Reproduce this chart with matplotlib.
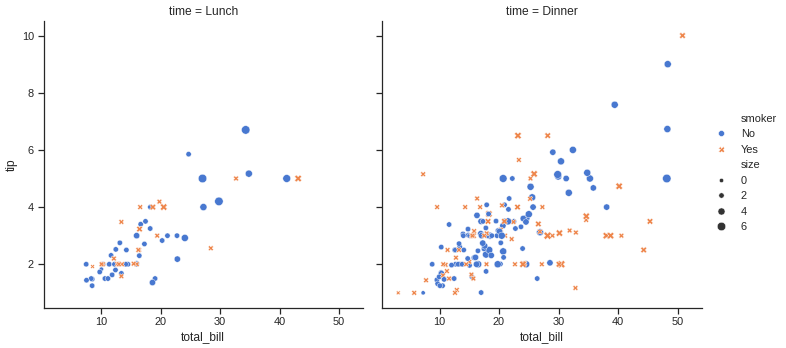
import matplotlib
matplotlib.use("Agg")
import numpy as np
import matplotlib.pyplot as plt
from matplotlib.lines import Line2D
import pandas as pd
import seaborn as sns

# tips data
total_bill = [
    16.99, 10.34, 21.01, 23.68, 24.59, 25.29, 8.77, 26.88, 15.04, 14.78,
    10.27, 35.26, 15.42, 18.43, 14.83, 21.58, 10.33, 16.29, 16.97, 20.65,
    17.92, 20.29, 15.77, 39.42, 19.82, 17.81, 13.37, 12.69, 21.70, 19.65,
    9.55, 18.35, 15.06, 20.69, 17.78, 24.06, 16.31, 16.93, 18.69, 31.27,
    16.04, 17.46, 13.94, 9.68, 30.40, 18.29, 22.23, 32.40, 28.55, 18.04,
    12.54, 10.29, 34.81, 9.94, 25.56, 19.49, 38.01, 26.41, 11.24, 48.27,
    20.29, 13.81, 11.02, 18.29, 17.59, 20.08, 16.45, 3.07, 20.23, 15.01,
    12.02, 17.07, 26.86, 25.28, 14.73, 10.51, 17.92, 27.20, 22.76, 17.29,
    19.44, 16.66, 10.07, 32.68, 15.98, 34.83, 13.03, 18.28, 24.71, 21.16,
    28.97, 22.49, 5.75, 16.32, 22.75, 40.17, 27.28, 12.03, 21.01, 12.46,
    11.35, 15.38, 44.30, 22.42, 20.92, 15.36, 20.49, 25.21, 18.24, 14.31,
    14.00, 7.25, 38.07, 23.95, 25.71, 17.31, 29.93, 10.65, 12.43, 24.08,
    11.69, 13.42, 14.26, 15.95, 12.48, 29.80, 8.52, 14.52, 11.38, 22.82,
    19.08, 20.27, 11.17, 12.26, 18.26, 8.51, 10.33, 14.15, 16.00, 13.16,
    17.47, 34.30, 41.19, 27.05, 16.43, 8.35, 18.64, 11.87, 9.78, 7.51,
    14.07, 13.13, 17.26, 24.55, 19.77, 29.85, 48.17, 25.00, 13.39, 16.49,
    21.50, 12.66, 16.21, 13.81, 17.51, 24.52, 20.76, 31.71, 10.59, 10.63,
    50.81, 15.81, 7.25, 31.85, 16.82, 32.90, 17.89, 14.48, 9.60, 34.63,
    34.65, 23.33, 45.35, 23.17, 40.55, 20.69, 20.90, 30.46, 18.15, 23.10,
    15.69, 19.81, 28.44, 15.48, 16.58, 7.56, 10.34, 43.11, 13.00, 13.51,
    18.71, 12.74, 13.00, 16.40, 20.53, 16.47, 26.59, 38.73, 24.27, 12.76,
    30.06, 25.89, 48.33, 13.27, 28.17, 12.90, 28.15, 11.59, 7.74, 30.14,
    12.16, 13.42, 8.58, 15.98, 13.42, 16.27, 10.09, 20.45, 13.28, 22.12,
    24.01, 15.69, 11.61, 10.77, 15.53, 10.07, 12.60, 32.83, 35.83, 29.03,
    27.18, 22.67, 17.82, 18.78,
]

tip = [
    1.01, 1.66, 3.50, 3.31, 3.61, 4.71, 2.00, 3.12, 1.96, 3.23,
    1.71, 5.00, 1.57, 3.00, 3.02, 3.92, 1.67, 3.71, 3.50, 3.35,
    4.08, 2.75, 2.23, 7.58, 3.18, 2.34, 2.00, 2.00, 4.30, 3.00,
    1.45, 2.50, 3.00, 2.45, 3.27, 3.60, 2.00, 3.07, 2.31, 5.00,
    2.24, 2.54, 3.06, 1.32, 5.60, 3.00, 5.00, 6.00, 2.05, 3.00,
    2.50, 2.60, 5.20, 1.56, 4.34, 3.51, 3.00, 1.50, 1.76, 6.73,
    3.21, 2.00, 1.98, 3.76, 2.64, 3.15, 2.47, 1.00, 2.01, 2.09,
    1.97, 3.00, 3.14, 5.00, 2.20, 1.25, 3.08, 4.00, 3.00, 2.71,
    3.00, 3.40, 1.83, 5.00, 2.03, 5.17, 2.00, 4.00, 5.85, 3.00,
    3.00, 3.50, 1.00, 4.30, 3.25, 4.73, 4.00, 1.50, 3.00, 1.50,
    2.50, 3.00, 2.50, 3.48, 4.08, 1.64, 4.06, 4.29, 3.76, 4.00,
    3.00, 1.00, 4.00, 2.55, 4.00, 3.50, 5.07, 1.50, 1.80, 2.92,
    2.31, 1.68, 2.50, 2.00, 2.52, 4.20, 1.48, 2.00, 2.00, 2.18,
    1.50, 2.83, 1.50, 2.00, 3.25, 1.25, 2.00, 2.00, 2.00, 2.75,
    3.50, 6.70, 5.00, 5.00, 2.30, 1.50, 1.36, 1.63, 1.73, 2.00,
    2.50, 2.00, 2.74, 2.00, 2.00, 5.14, 5.00, 3.75, 2.61, 2.00,
    3.50, 2.50, 2.00, 2.00, 3.00, 3.48, 2.24, 4.50, 1.61, 2.00,
    10.00, 3.16, 5.15, 3.18, 4.00, 3.11, 2.00, 2.00, 4.00, 3.55,
    3.68, 5.65, 3.50, 6.50, 3.00, 5.00, 3.50, 2.00, 3.50, 4.00,
    1.50, 4.19, 2.56, 2.02, 4.00, 1.44, 2.00, 5.00, 2.00, 2.00,
    4.00, 2.01, 2.00, 2.50, 4.00, 3.23, 3.41, 3.00, 2.03, 2.23,
    2.00, 5.16, 9.00, 2.50, 6.50, 1.10, 3.00, 1.50, 1.44, 3.09,
    2.20, 3.48, 1.92, 3.00, 1.58, 2.50, 2.00, 3.00, 2.72, 2.88,
    2.00, 3.00, 3.39, 1.47, 3.00, 1.25, 1.00, 1.17, 4.67, 5.92,
    2.00, 2.00, 1.75, 3.00,
]

# N = No, Y = Yes
smoker_codes = (
    "NNNNNNNNNN" "NNNNNNNNNN" "NNNNNNNNNN" "NNNNNNNNNN" "NNNNNNNNNN"
    "NNNNNNYNYN" "YYYYNNNYNY" "NNYYNNYNNN" "YNNYNNNNNN" "YNYYNYYYYN"
    "YYYYNYYYNY" "NNNNNNNNNN" "NNNNNNNNNN" "NNNNNNNNYN" "NNNNNNNNNN"
    "NNNNNNNNNN" "NNNNYNNNYY" "YYYYYYYYYY" "YYYYYNYYYY" "YYYYYNYYYY"
    "YYYYYYYYYY" "YYNYYYYYYY" "YYYNYYYNNY" "YYNNYNYYNN" "YYNN"
)

# D = Dinner, L = Lunch
time_codes = (
    "DDDDDDDDDD" "DDDDDDDDDD" "DDDDDDDDDD" "DDDDDDDDDD" "DDDDDDDDDD"
    "DDDDDDDDDD" "DDDDDDDDDD" "DDDDDDDLLL" "LLLLLLLLLL" "DDDDDDDDDD"
    "DDDDDDDDDD" "DDDDDDDLLL" "LLLLLLLLLL" "LLLLLLLLLL" "LLLLLLLLLL"
    "DDDDDDDDDD" "DDDDDDDDDD" "DDDDDDDDDD" "DDDDDDDDDD" "DLLLLLLLLL"
    "LLLLLLDDDD" "DDDDDDDDDD" "LLLLLLLDDD" "DDDDDDDDDD" "DDDD"
)

size = [
    2, 3, 3, 2, 4, 4, 2, 4, 2, 2,
    2, 4, 2, 4, 2, 2, 3, 3, 3, 3,
    2, 2, 2, 4, 2, 4, 2, 2, 2, 2,
    2, 4, 2, 4, 2, 3, 3, 3, 3, 3,
    3, 2, 2, 2, 4, 2, 2, 4, 3, 2,
    2, 2, 4, 2, 4, 2, 4, 2, 2, 4,
    2, 2, 2, 4, 3, 3, 2, 1, 2, 2,
    2, 3, 2, 2, 2, 2, 2, 4, 2, 2,
    2, 2, 1, 2, 2, 4, 2, 2, 2, 2,
    2, 2, 2, 2, 2, 4, 2, 2, 2, 2,
    2, 2, 3, 2, 2, 2, 2, 2, 2, 2,
    2, 1, 3, 2, 3, 2, 4, 2, 2, 4,
    2, 2, 2, 2, 2, 6, 2, 2, 2, 3,
    2, 2, 2, 2, 2, 2, 2, 2, 2, 2,
    2, 6, 5, 6, 2, 2, 3, 2, 2, 2,
    2, 2, 3, 4, 4, 5, 6, 4, 2, 4,
    4, 2, 3, 2, 2, 3, 2, 4, 2, 2,
    3, 2, 2, 2, 2, 2, 2, 2, 2, 2,
    4, 2, 3, 4, 2, 5, 3, 5, 3, 3,
    2, 2, 2, 2, 2, 2, 2, 4, 2, 2,
    3, 2, 2, 2, 4, 3, 3, 4, 2, 2,
    3, 4, 4, 2, 3, 2, 5, 2, 2, 4,
    2, 2, 1, 3, 2, 2, 2, 4, 2, 2,
    4, 3, 2, 2, 2, 2, 2, 2, 3, 3,
    2, 2, 2, 2,
]

smoker_levels = ["No", "Yes"]
size_ticks = [0, 2, 4, 6]

smoker = ["Yes" if c == "Y" else "No" for c in smoker_codes]
time = ["Lunch" if c == "L" else "Dinner" for c in time_codes]

tips = pd.DataFrame({
    "total_bill": total_bill,
    "tip": tip,
    "smoker": smoker,
    "time": time,
    "size": size,
})

sns.set_theme(style="ticks", palette="muted")
plt.rcParams["font.family"] = ["Liberation Sans", "DejaVu Sans"]

size_range = (18, 72)
g = sns.relplot(data=tips, x="total_bill", y="tip",
                hue="smoker", style="smoker", size="size",
                col="time", col_order=["Lunch", "Dinner"],
                hue_order=smoker_levels, style_order=smoker_levels,
                sizes=size_range, legend=False, height=5, aspect=1)

W, H = 786, 348
fig = g.figure
fig.set_size_inches(W / 72, H / 72)

ax1, ax2 = g.axes[0]
ax1.set_position([43.5 / W, 40.3 / H, 319.5 / W, 286.7 / H])
ax2.set_position([382 / W, 40.3 / H, 319.5 / W, 286.7 / H])
ax1.set_xlim(0.34, 54.0)
ax1.set_ylim(0.48, 10.51)

# legend built by hand: brief size ticks 0, 2, 4, 6 (clipped to the data range)
pal = sns.color_palette("muted")
smin, smax = min(size), max(size)


def area(v):
    v = min(max(v, smin), smax)
    return size_range[0] + (v - smin) / (smax - smin) * (size_range[1] - size_range[0])


def blank():
    return Line2D([], [], linestyle="", marker="")


handles, labels = [blank()], ["smoker"]
for lvl, color, mk in zip(smoker_levels, pal, ["o", "X"]):
    handles.append(Line2D([], [], linestyle="", marker=mk, color=color,
                          markersize=6, markeredgecolor="white", markeredgewidth=0.5))
    labels.append(lvl)
handles.append(blank())
labels.append("size")
for v in size_ticks:
    handles.append(Line2D([], [], linestyle="", marker="o", color=".2",
                          markersize=np.sqrt(area(v)), markeredgecolor="white",
                          markeredgewidth=0.5))
    labels.append(str(v))

fig.legend(handles, labels, loc="center left", bbox_to_anchor=(700 / W, 0.503),
           frameon=False)

fig.savefig("out.png", dpi=72)
